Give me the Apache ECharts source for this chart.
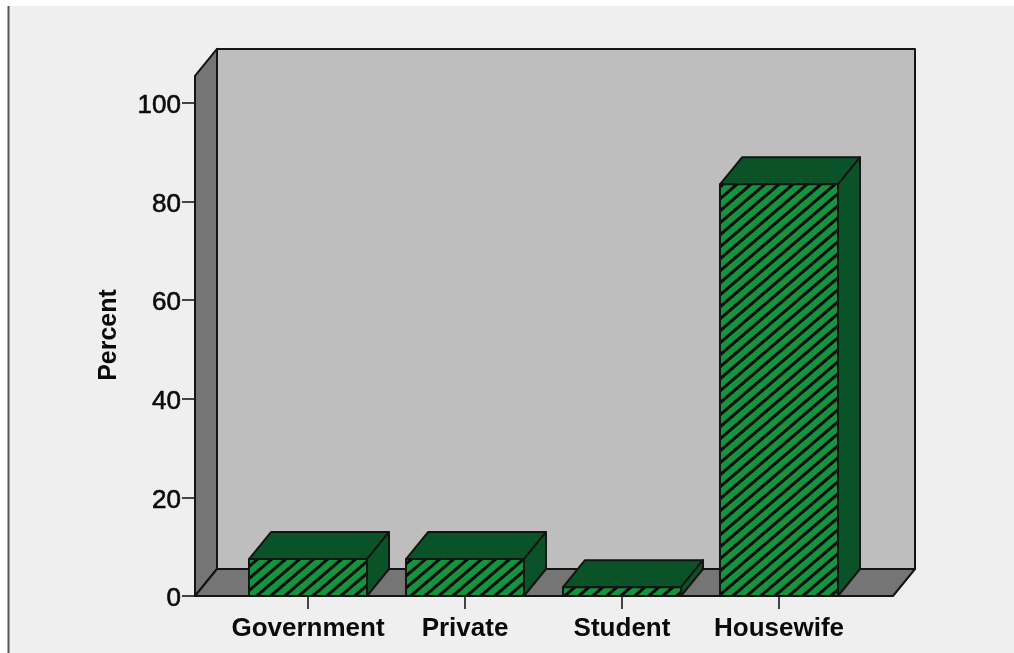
<!DOCTYPE html>
<html>
<head>
<meta charset="utf-8">
<style>html,body{margin:0;padding:0;background:#fff}#chart{width:1014px;height:653px}</style>
<script src="https://cdn.jsdelivr.net/npm/echarts@6/dist/echarts.min.js"></script>
</head>
<body>
<div id="chart"></div>
<script>
// Employment status of respondents, as percentages
const categories = ['Government', 'Private', 'Student', 'Housewife'];
const percents = [7.5, 7.5, 1.8, 83.5];
const yTicks = [0, 20, 40, 60, 80, 100];
const wallTopValue = 105.5;

const depthX = 22, depthY = 27;       // oblique offset of the 3D box
const wallPadLeft = 34.5, wallPadRight = 35.5; // floor overhang past the category band
const edge = '#141414';
const colors = { wallSide: '#757575', wallBack: '#bebebe', front: '#14943f', dark: '#0a5228' };

// Diagonal hatch tile for the bar fronts
function hatchTile() {
  const w = 14, h = 12, c = document.createElement('canvas');
  c.width = w;
  c.height = h;
  const g = c.getContext('2d');
  g.fillStyle = colors.front;
  g.fillRect(0, 0, w, h);
  g.strokeStyle = '#0a0a0a';
  g.lineWidth = 3;
  [-w, 0, w].forEach(d => {
    g.beginPath();
    g.moveTo(d - w, h + h);
    g.lineTo(d + w + w, -h);
    g.stroke();
  });
  return c;
}
const hatch = { image: hatchTile(), repeat: 'repeat' };

function poly(points, fill) {
  return { type: 'polygon', shape: { points }, style: { fill, stroke: edge, lineWidth: 2, lineJoin: 'round' } };
}

// Side wall, back wall and floor of the 3D frame
function renderWalls(params, api) {
  const cs = params.coordSys;
  const y0 = api.coord([0, 0])[1];
  const yt = api.coord([0, wallTopValue])[1];
  const l = cs.x - wallPadLeft, r = cs.x + cs.width + wallPadRight;
  return {
    type: 'group',
    children: [
      poly([[l + depthX, yt - depthY], [r + depthX, yt - depthY], [r + depthX, y0 - depthY], [l + depthX, y0 - depthY]], colors.wallBack),
      poly([[l, yt], [l + depthX, yt - depthY], [l + depthX, y0 - depthY], [l, y0]], colors.wallSide),
      poly([[l, y0], [l + depthX, y0 - depthY], [r + depthX, y0 - depthY], [r, y0]], colors.wallSide)
    ]
  };
}

// One oblique box per category
function renderBar(params, api) {
  const c = api.coord([api.value(0), api.value(1)]);
  const y0 = api.coord([api.value(0), 0])[1];
  const w = api.size([1, 0])[0] * 0.7516;
  const l = c[0] - w / 2, r = c[0] + w / 2, t = c[1];
  return {
    type: 'group',
    children: [
      poly([[l, t], [l + depthX, t - depthY], [r + depthX, t - depthY], [r, t]], colors.dark),
      poly([[r, t], [r + depthX, t - depthY], [r + depthX, y0 - depthY], [r, y0]], colors.dark),
      poly([[l, t], [r, t], [r, y0], [l, y0]], hatch)
    ]
  };
}

const family = '"Liberation Sans", Arial, sans-serif';

const chart = echarts.init(document.getElementById('chart'), null, { renderer: 'canvas' });
chart.setOption({
  animation: false,
  backgroundColor: '#ffffff',
  graphic: [
    { type: 'rect', z: -10, shape: { x: 8, y: 6, width: 1006, height: 647 }, style: { fill: '#efefef' } },
    { type: 'rect', z: -9, shape: { x: 7.5, y: 6, width: 2, height: 647 }, style: { fill: '#555555' } },
    { type: 'text', x: 109, y: 335, rotation: Math.PI / 2, z: 5,
      style: { text: 'Percent', align: 'center', verticalAlign: 'middle', fontFamily: family, fontSize: 25, fontWeight: 'bold', fill: '#0a0a0a' } }
  ],
  grid: { left: 229.5, width: 628, top: 103, height: 493, containLabel: false },
  xAxis: {
    type: 'category',
    data: categories,
    axisLine: { show: false },
    axisTick: { show: true, alignWithLabel: true, length: 13, lineStyle: { color: '#444', width: 2 } },
    axisLabel: { fontFamily: family, fontSize: 26, fontWeight: 'bold', color: '#0a0a0a', margin: 20, interval: 0 }
  },
  yAxis: {
    type: 'value',
    min: yTicks[0],
    max: yTicks[yTicks.length - 1],
    interval: yTicks[1] - yTicks[0],
    offset: wallPadLeft,
    axisLine: { show: false },
    axisTick: { show: true, length: 13, lineStyle: { color: '#444', width: 2 } },
    splitLine: { show: false },
    axisLabel: { fontFamily: family, fontSize: 26, color: '#0a0a0a', textBorderColor: '#0a0a0a', textBorderWidth: 0.6, margin: 14, verticalAlign: 'top', lineHeight: 6 }
  },
  series: [
    { type: 'custom', coordinateSystem: 'cartesian2d', clip: false, silent: true, z: 1, renderItem: renderWalls, data: [[0, 0]] },
    { type: 'custom', coordinateSystem: 'cartesian2d', clip: false, silent: true, z: 2, renderItem: renderBar, encode: { x: 0, y: 1 },
      data: categories.map((c, i) => [i, percents[i]]) }
  ]
});
</script>
</body>
</html>
